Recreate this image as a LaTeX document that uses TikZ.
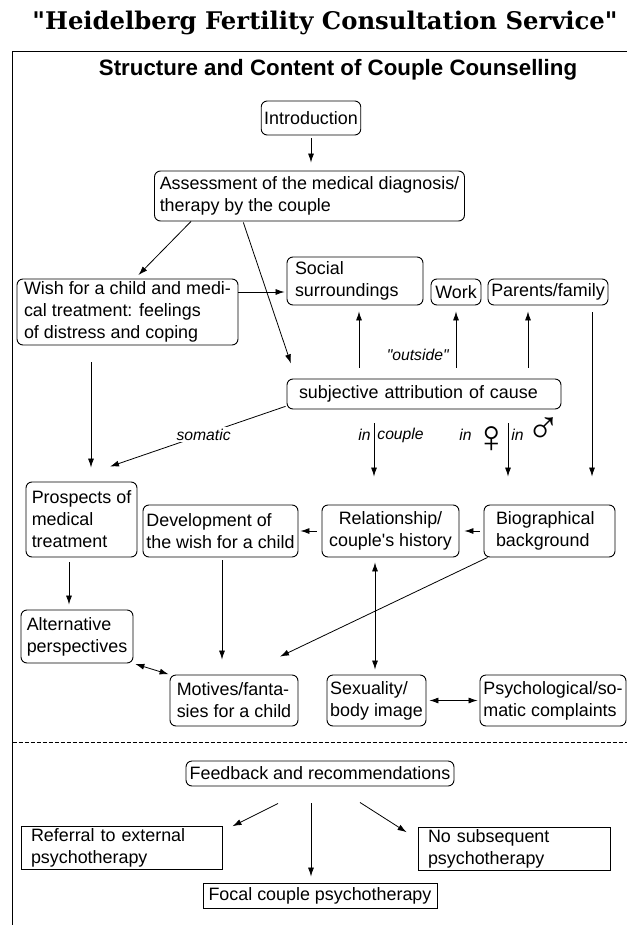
\documentclass[tikz,border=0pt]{standalone}
\usepackage{fontspec}
\newfontfamily\diagfont{Liberation Sans}
\newfontfamily\titlefont{DejaVu Serif}
\usetikzlibrary{arrows.meta, calc}

\newcommand{\gsym}[2]{\smash{\raisebox{#1}{\upshape\fontsize{46}{46}\selectfont #2}}}

\begin{document}
\begin{tikzpicture}[x=1pt, y=-1pt,
        box/.style={draw=black, line width=0.9pt, rounded corners=6pt, fill=white, align=left, inner xsep=3pt, inner ysep=2pt, font=\diagfont\fontsize{17.9}{22}\selectfont},
        plainbox/.style={box, sharp corners, inner xsep=10pt},
        flow/.style={-{Latex[length=9pt, width=6pt]}, line width=0.8pt},
        both/.style={{Latex[length=9pt, width=6pt]}-{Latex[length=9pt, width=6pt]}, line width=0.8pt},
        lbl/.style={font=\diagfont\itshape\fontsize{15.7}{18}\selectfont, inner sep=2pt}
    ]
        \useasboundingbox (0,0) rectangle (627,925);
        % Frame
        \draw[line width=1pt] (627,52) -- (12.7,52) -- (12.7,925);
        \draw[line width=0.8pt, dash pattern=on 4pt off 2pt] (12.7,742) -- (627,742);
        % Headings
        \node (title) at (325,23) {\titlefont\bfseries\fontsize{24.3}{28}\selectfont "Heidelberg Fertility Consultation Service"};
        \node (subtitle) at (338,70) {\diagfont\bfseries\fontsize{22.3}{26}\selectfont Structure and Content of Couple Counselling};
        % Counselling content
        \node[box, minimum width=98pt, minimum height=34pt, align=center] (intro) at (311,118) {Introduction};
        \node[box, minimum width=310pt, minimum height=50pt] (assess) at (309.5,196) {Assessment of the medical diagnosis/\\therapy by the couple};
        \node[box, minimum width=221pt, minimum height=66pt] (wish) at (127.5,312) {Wish for a child and medi-\\cal treatment: feelings\\of distress and coping};
        \node[box, text width=120pt, inner xsep=8pt, minimum height=48pt] (social) at (355,281) {Social\\surroundings};
        \node[box, minimum width=50pt, minimum height=26pt] (work) at (456,292) {Work};
        \node[box, minimum width=120pt, minimum height=26pt] (parents) at (548,292) {Parents/family};
        \node[box, text width=250pt, inner xsep=12pt, minimum height=30pt] (subj) at (424,394) {subjective attribution of cause};
        \node[box, minimum width=111pt, minimum height=75pt] (prosp) at (81.5,519.5) {Prospects of\\medical\\treatment};
        \node[box, minimum width=155pt, inner xsep=2pt, minimum height=52pt] (devel) at (220.5,531) {Development of\\the wish for a child};
        \node[box, minimum width=137pt, align=center, minimum height=52pt] (relat) at (390.5,531) {Relationship/\\couple's history};
        \node[box, text width=107pt, inner xsep=12pt, minimum height=52pt] (bio) at (549.5,531) {Biographical\\background};
        \node[box, minimum width=112pt, minimum height=53pt] (altern) at (77,636.5) {Alternative\\perspectives};
        \node[box, minimum width=128pt, minimum height=51pt] (motives) at (234,700.5) {Motives/fanta-\\sies for a child};
        \node[box, minimum width=99pt, inner xsep=2pt, minimum height=51pt] (sexual) at (376.5,700.5) {Sexuality/\\body image};
        \node[box, minimum width=146pt, inner xsep=2pt, minimum height=51pt] (psych) at (553,700.5) {Psychological/so-\\matic complaints};
        % Outcome
        \node[box, minimum width=268pt, minimum height=25pt] (feedback) at (320,773.5) {Feedback and recommendations};
        \node[plainbox, text width=181pt, minimum height=42pt] (referral) at (121.5,848) {Referral to external\\psychotherapy};
        \node[plainbox, text width=172pt, minimum height=42pt] (nosub) at (514,849) {No subsequent\\psychotherapy};
        \node[plainbox, minimum width=234pt, minimum height=25pt, inner xsep=3pt] (focal) at (320,895.5) {Focal couple psychotherapy};
        % Connections
        \draw[flow, shorten <=3pt, shorten >=8pt] (intro.south) -- (intro.south |- assess.north);
        \draw[flow, shorten >=5pt] (assess.south -| 191,0) -- (wish.north -| 135,0);
        \draw[flow, shorten <=1pt, shorten >=16pt] (assess.south -| 243,0) -- (subj.north -| 296,0);
        \draw[flow, shorten >=2pt] (wish.east |- 0,292) -- (social.west |- 0,292);
        \draw[flow, shorten <=11pt, shorten >=6pt] (subj.north -| 359,0) -- (social.south -| 359,0);
        \draw[flow, shorten <=11pt, shorten >=6pt] (subj.north -| work.south) -- (work.south) node[pos=.32, left=5pt, lbl] {"outside"};
        \draw[flow, shorten <=11pt, shorten >=6pt] (subj.north -| 528,0) -- (parents.south -| 528,0);
        \draw[flow, shorten <=7pt, shorten >=28pt] (parents.south -| 592,0) -- (bio.north -| 592,0);
        \draw[flow, shorten <=14pt, shorten >=28pt] (subj.south -| 374,0) -- (relat.north -| 374,0) node[pos=.27, left=1pt, lbl] {in} node[pos=.27, right=1pt, lbl] {couple};
        \draw[flow, shorten <=14pt, shorten >=28pt] (subj.south -| 508,0) -- (bio.north -| 508,0) node[pos=.27, left=-3pt, lbl] {in\,\gsym{-12pt}{♀}} node[pos=.27, right=1pt, lbl] {in\,\gsym{-3pt}{♂}};
        \draw[flow, shorten <=1pt] ($(subj.west)+(0,12)$) -- ($(prosp.north -| 110,0)+(0,-15)$) node[pos=.47, fill=white, lbl] {somatic};
        \draw[flow, shorten <=17pt, shorten >=14pt] (wish.south -| 91,0) -- (prosp.north -| 91,0);
        \draw[flow, shorten <=5pt, shorten >=2pt] (relat.west) -- (devel.east);
        \draw[flow, shorten <=4pt, shorten >=5pt] (bio.west) -- (relat.east);
        \draw[flow, shorten <=5pt, shorten >=5pt] (prosp.south -| 69,0) -- (altern.north -| 69,0);
        \draw[flow, shorten <=3pt, shorten >=15pt] (devel.south -| 222,0) -- (motives.north -| 222,0);
        \draw[flow] ($(bio.south west)+(4,0)$) -- ($(motives.north -| 280,0)+(0,-18)$);
        \draw[both, shorten <=5pt, shorten >=5pt] (relat.south -| 375,0) -- (sexual.north -| 375,0);
        \draw[both, shorten <=2pt, shorten >=1pt] (altern.south east) -- (motives.north west);
        \draw[both, shorten <=3pt, shorten >=2pt] (sexual.east) -- (psych.west);
        \draw[flow] ($(feedback.south -| 278,0)+(0,17)$) -- ($(referral.north east)+(10,0)$);
        \draw[flow, shorten <=17pt, shorten >=6pt] (feedback.south -| 311,0) -- (focal.north -| 311,0);
        \draw[flow] ($(feedback.south -| 360,0)+(0,16)$) -- ($(nosub.north west)+(-11,5)$);
\end{tikzpicture}
\end{document}
